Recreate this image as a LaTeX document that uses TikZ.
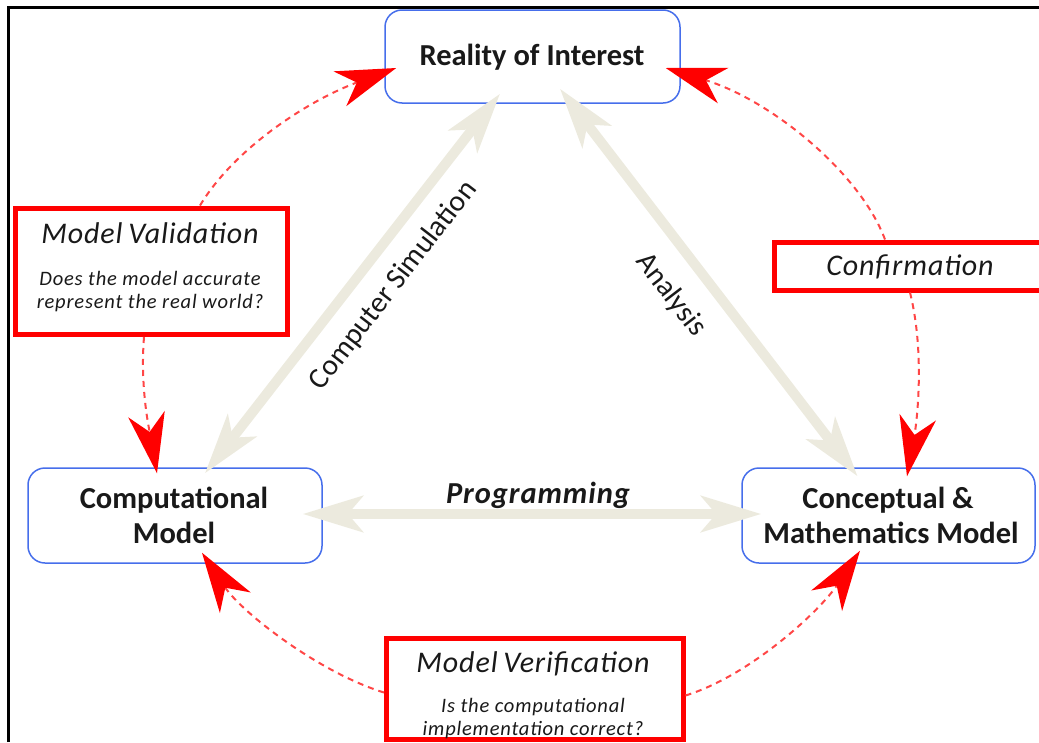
\documentclass[tikz,border=0pt]{standalone}
\usepackage{fontspec}
\setmainfont{Carlito}
\newfontfamily\spacedfont[LetterSpace=4]{Carlito}
\newfontfamily\widefont[LetterSpace=3]{Carlito}
\usetikzlibrary{arrows.meta}

\definecolor{boxblue}{RGB}{70,110,235}
\definecolor{tanline}{RGB}{236,234,222}
\definecolor{dashred}{RGB}{255,70,70}
\definecolor{ink}{RGB}{25,25,25}

\tikzset{
  bluebox/.style={draw=boxblue, line width=1.5pt, rounded corners=17pt, inner sep=0pt},
  redbox/.style={draw=red, line width=5pt, inner sep=0pt},
  boxlabel/.style={anchor=base, inner sep=0pt, text=ink, font=\fontsize{30.5}{34}\selectfont\bfseries},
  titlelabel/.style={anchor=base, inner sep=0pt, text=ink, font=\widefont\fontsize{30}{34}\selectfont\itshape},
  sublabel/.style={anchor=base, inner sep=0pt, text=ink, font=\spacedfont\fontsize{20.5}{24}\selectfont\itshape},
  edgelabel/.style={inner sep=0pt, text=ink, font=\fontsize{29.5}{34}\selectfont},
  greyarrow/.style={draw=tanline, line width=10pt,
    {Stealth[length=60pt,width=36pt,inset=15pt]}-{Stealth[length=60pt,width=36pt,inset=15pt]}},
  redarrow/.style={draw=dashred, line width=2pt, dash pattern=on 6pt off 5pt,
    -{Stealth[length=60pt,width=37pt,inset=18pt,color=red]}},
}

\begin{document}
\begin{tikzpicture}[x=1pt,y=-1pt]
\path[use as bounding box, clip] (0,0) rectangle (1039,742);

% outer frame: only its left and top edges fall inside the picture
\draw[line width=3pt] (8.7,742) -- (8.7,5.5);
\draw[line width=3pt] (7.2,7) -- (1039,7);

% the three models
\node[bluebox, minimum width=295pt, minimum height=93pt] (roi) at (532.5,56.5) {};
\node[bluebox, minimum width=294pt, minimum height=95pt] (comp) at (175,515.5) {};
\node[bluebox, minimum width=293pt, minimum height=95pt] (conc) at (888.5,515.5) {};

\node[boxlabel] (roi-l1) at (532,65) {Reality of Interest};
\node[boxlabel] (comp-l1) at (174,508) {Computational};
\node[boxlabel] (comp-l2) at (174,543) {Model};
\node[boxlabel] (conc-l1) at (888,508) {Conceptual \&};
\node[boxlabel] (conc-l2) at (891,543) {Mathematics Model};

% the three activities (the right side of the confirmation box runs off the picture)
\node[redbox, minimum width=272pt, minimum height=126.5pt] (mval) at (151,271.25) {};
\node[redbox, minimum width=275pt, minimum height=48pt] (conf) at (912,266) {};
\node[redbox, minimum width=296.5pt, minimum height=101.5pt] (mver) at (534.75,688.75) {};

\node[titlelabel] (mval-t) at (150,243) {Model\hspace{-2pt} Validation};
\node[sublabel] (mval-s1) at (150,285) {Does the model accurate};
\node[sublabel] (mval-s2) at (150,308) {represent the real world?};
\node[titlelabel] (conf-t) at (910,275) {Confirmation};
\node[titlelabel] (mver-t) at (533,672) {Model\hspace{-2pt} Verification};
\node[sublabel] (mver-s1) at (533,712) {Is the computational};
\node[sublabel] (mver-s2) at (533,735) {implementation correct?};

% transformations between the models
\draw[greyarrow] ([shift={(30,6)}]comp.north) -- ([shift={(-32.5,-10)}]roi.south);
\draw[greyarrow] ([shift={(27.5,-15)}]roi.south) -- ([shift={(-31,9)}]conc.north);
\draw[greyarrow] ([shift={(-20,-1.5)}]comp.east) -- ([shift={(20,-1.5)}]conc.west);

\node[edgelabel, rotate=52.3] (cs-label) at (393.5,285.5) {Computer Simulation};
\node[edgelabel, rotate=-52.5] (an-label) at (671,295) {Analysis};
\node[edgelabel, anchor=base, font=\widefont\fontsize{30.5}{34}\selectfont\bfseries\itshape] (pr-label) at (538,503) {Programming};

% dashed links from the activities to the models
\draw[redarrow] (200,0 |- mval.north) .. controls +(35,-58) and +(-87,32) .. ([shift={(12,11.5)}]roi.west);
\draw[redarrow] (144,0 |- mval.south) .. controls +(-4,50) and +(-8,-45) .. ([shift={(-18,6)}]comp.north);
\draw[redarrow] (885,0 |- conf.north) .. controls +(-25,-67) and +(105,32) .. ([shift={(-15,11.5)}]roi.east);
\draw[redarrow] (910,0 |- conf.south) .. controls +(15,60) and +(10,-55) .. ([shift={(18.5,9)}]conc.north);
\draw[redarrow] ([yshift=-3.75]mver.west) .. controls +(-65,-20) and +(40,60) .. ([shift={(27,-11)}]comp.south);
\draw[redarrow] ([yshift=-6.75]mver.east) .. controls +(65,-20) and +(-40,60) .. ([shift={(-28.5,-13)}]conc.south);
\end{tikzpicture}
\end{document}
